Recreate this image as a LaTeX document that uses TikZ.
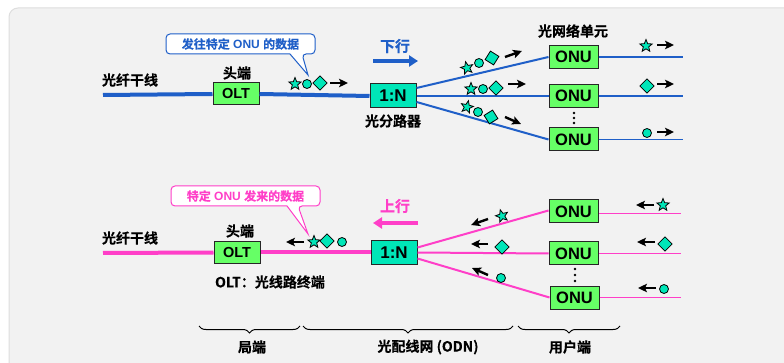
\documentclass[tikz,border=0pt]{standalone}
\usepackage{fontspec}
\setmainfont{Liberation Sans}
\newfontfamily\cjk{Noto Sans CJK SC}[BoldFont={Noto Sans CJK SC Bold}, BoldFeatures={FakeBold=0.4}]
\usetikzlibrary{shapes.geometric,arrows.meta,decorations.pathreplacing,calc}
\definecolor{panel}{HTML}{F2F2F2}
\definecolor{panelrim}{HTML}{DEDEDE}
\definecolor{pblue}{HTML}{1F5FC8}
\definecolor{pmag}{HTML}{FF3FC8}
\definecolor{boxg}{HTML}{66FF66}
\definecolor{tealx}{HTML}{00E6B8}
\begin{document}
\begin{tikzpicture}[x=1pt,y=-1pt,
  cjkt/.style={font=\cjk\bfseries\fontsize{14}{16}\selectfont, inner sep=0},
  onubox/.style={draw=black!85, line width=1pt, fill=boxg, minimum width=49pt, minimum height=23pt, inner sep=0, font=\bfseries\fontsize{16.5}{18}\selectfont},
  oltbox/.style={draw=black!85, line width=1pt, fill=boxg, minimum width=46pt, minimum height=22pt, inner sep=0, font=\bfseries\fontsize{14.5}{16}\selectfont},
  splitbox/.style={draw=black!85, line width=1pt, fill=tealx, minimum width=46pt, minimum height=24pt, inner sep=0, font=\bfseries\fontsize{17}{18}\selectfont},
  starsym/.style={shape=star, star points=5, star point ratio=2.3, minimum size=13pt, inner sep=0, draw=black, fill=tealx, line width=0.8pt},
  circsym/.style={circle, minimum size=9pt, inner sep=0, draw=black, fill=tealx, line width=0.8pt},
  diasym/.style={diamond, minimum size=14.5pt, inner sep=0, draw=black, fill=tealx, line width=0.8pt},
  darrow/.style={line width=2.4pt, -{Stealth[length=9pt,width=8.5pt,inset=2pt]}},
  trunk/.style={line width=4pt},
  branch/.style={line width=2pt},
  leaf/.style={line width=1.6pt},
  callout/.style={font=\bfseries\fontsize{12}{13}\selectfont, inner sep=0},
  bracex/.style={decorate, decoration={brace, amplitude=7pt, mirror}, line width=1pt}
]
\useasboundingbox (0,0) rectangle (784,363);
\begin{scope}
  \clip (0,0) rectangle (784,363);
  \fill[white] (0,0) rectangle (784,363);
  \draw[panelrim, fill=panel, line width=1pt, rounded corners=9pt] (9,8) rectangle (800,380);
\end{scope}

% ================= downstream =================
\node[cjkt] (t1) at (130,80) {光纤干线};
\node[cjkt] (h1) at (237,73) {头端};
\node[oltbox] (olt1) at (236,94) {OLT};
\node[splitbox] (sp1) at (393,96) {1:N};
\node[cjkt] (sl1) at (393,121) {光分路器};
\node[cjkt] (ou) at (573,31) {光网络单元};
\node[onubox] (da) at (573.5,57) {ONU};
\node[onubox] (db) at (573.5,96) {ONU};
\node[onubox] (dc) at (573.5,139.5) {ONU};
\coordinate (ts1) at (103,95);
\coordinate (de) at (683,0);

\draw[pblue, trunk] (ts1) -- (olt1.west);
\draw[pblue, trunk] (olt1.east) -- (sp1.west);
\draw[pblue, branch] ($(sp1.east)+(0,-8)$) -- (da.west);
\draw[pblue, branch] (sp1.east) -- (db.west);
\draw[pblue, branch] ($(sp1.east)+(0,6)$) -- (dc.west);
\draw[pblue, leaf] (da.east) -- (da.east -| de);
\draw[pblue, leaf] (db.east) -- (db.east -| de);
\draw[pblue, leaf] (dc.east) -- (dc.east -| de);
\foreach \yy in {113,118,123} \fill (574,\yy) circle (1.3pt);

% callout downstream
\draw[pblue, line width=1pt, fill=white, rounded corners=4pt]
  (166,34) -- (315,34) -- (315,54) -- (302,54) [sharp corners] -- (308,75) -- (290,54) [rounded corners=4pt] -- (166,54) -- cycle;
\node[callout, text=pblue] (c1) at (240.5,44) {{\cjk 发往特定} ONU {\cjk 的数据}};

% 下行 arrow
\node[cjkt, text=pblue, font=\cjk\bfseries\fontsize{15}{16}\selectfont] (dl) at (395,46) {下行};
\coordinate (dla) at (373,61);
\coordinate (dlb) at (418,61);
\draw[pblue, line width=3.5pt, -{Triangle[length=9pt,width=11pt]}] (dla) -- (dlb);

% symbols on trunk
\node[starsym] (s1) at (295,84) {};
\node[circsym] (s2) at (307,84) {};
\node[diasym] (s3) at (320,83) {};
\coordinate (a1) at (330,83); \coordinate (a2) at (348,83);
\draw[darrow] (a1) -- (a2);

% symbols on branches
\node[starsym, rotate=13] (u1) at (467,68) {};
\node[circsym] (u2) at (479,63) {};
\node[diasym, rotate=13] (u3) at (492,58) {};
\coordinate (ua) at (505,57); \coordinate (ub) at (522,51);
\draw[darrow] (ua) -- (ub);
\node[starsym] (m1) at (471,89) {};
\node[circsym] (m2) at (483,89) {};
\node[diasym] (m3) at (496,88) {};
\coordinate (ma) at (508,84); \coordinate (mb) at (526,84);
\draw[darrow] (ma) -- (mb);
\node[starsym, rotate=-13] (l1) at (467,107) {};
\node[circsym] (l2) at (478,112) {};
\node[diasym, rotate=-13] (l3) at (491,117) {};
\coordinate (la) at (505,117); \coordinate (lb) at (521,124);
\draw[darrow] (la) -- (lb);

% symbols after ONU
\node[starsym] (r1) at (646,46) {};
\coordinate (r1a) at (657,45); \coordinate (r1b) at (674,45);
\draw[darrow] (r1a) -- (r1b);
\node[diasym] (r2) at (647,86) {};
\coordinate (r2a) at (657,84); \coordinate (r2b) at (674,84);
\draw[darrow] (r2a) -- (r2b);
\node[circsym] (r3) at (647,133) {};
\coordinate (r3a) at (657,132); \coordinate (r3b) at (674,132);
\draw[darrow] (r3a) -- (r3b);

% ================= upstream =================
\node[cjkt] (t2) at (130,238) {光纤干线};
\node[cjkt] (h2) at (240,231) {头端};
\node[oltbox] (olt2) at (237,252.5) {OLT};
\node[cjkt] (oltdef) at (270,282) {OLT{\cjk ：光线路终端}};
\node[splitbox] (sp2) at (394,252.5) {1:N};
\node[onubox] (ua1) at (573.5,211.5) {ONU};
\node[onubox] (ub1) at (573.5,253.5) {ONU};
\node[onubox] (uc1) at (574.5,297.5) {ONU};
\coordinate (ts2) at (103,253);
\coordinate (ue) at (681,0);

\draw[pmag, trunk] (ts2) -- (olt2.west);
\draw[pmag, trunk] (olt2.east) -- (sp2.west);
\draw[pmag, branch] ($(sp2.east)+(0,-5)$) -- ($(ua1.west)+(0,-1)$);
\draw[pmag, branch] (sp2.east) -- (ub1.west);
\draw[pmag, branch] ($(sp2.east)+(0,6)$) -- (uc1.west);
\draw[pmag, leaf] ($(ua1.east)+(0,2)$) -- ($(ua1.east -| ue)+(0,2)$);
\draw[pmag, leaf] (ub1.east) -- (ub1.east -| ue);
\draw[pmag, leaf] (uc1.east) -- (uc1.east -| ue);
\foreach \yy in {269,275,281} \fill (575,\yy) circle (1.3pt);

% callout upstream
\draw[pmag, line width=1pt, fill=white, rounded corners=4pt]
  (171,186) -- (320,186) -- (320,206) -- (298,206) [sharp corners] -- (308,234) -- (287,206) [rounded corners=4pt] -- (171,206) -- cycle;
\node[callout, text=pmag] (c2) at (245.5,196) {{\cjk 特定} ONU {\cjk 发来的数据}};

% 上行 arrow
\node[cjkt, text=pmag, font=\cjk\bfseries\fontsize{15}{16}\selectfont] (ul) at (395,206) {上行};
\coordinate (ula) at (418,223);
\coordinate (ulb) at (373,223);
\draw[pmag, line width=3.5pt, -{Triangle[length=9pt,width=11pt]}] (ula) -- (ulb);

% symbols on trunk
\coordinate (b1) at (304,242); \coordinate (b2) at (286,242);
\draw[darrow] (b1) -- (b2);
\node[starsym] (q1) at (314,242) {};
\node[diasym] (q2) at (327,241) {};
\node[circsym] (q3) at (342,242) {};

% symbols on branches
\coordinate (p1a) at (488,219); \coordinate (p1b) at (471,225);
\draw[darrow] (p1a) -- (p1b);
\node[starsym, rotate=16] (p1) at (502,216) {};
\coordinate (p2a) at (488,244); \coordinate (p2b) at (471,244);
\draw[darrow] (p2a) -- (p2b);
\node[diasym] (p2) at (502,247) {};
\coordinate (p3a) at (488,275); \coordinate (p3b) at (472,268);
\draw[darrow] (p3a) -- (p3b);
\node[circsym] (p3) at (501,278) {};

% symbols after ONU
\coordinate (w1a) at (654,205); \coordinate (w1b) at (636,205);
\draw[darrow] (w1a) -- (w1b);
\node[starsym] (w1) at (663,205) {};
\coordinate (w2a) at (655,242); \coordinate (w2b) at (637,242);
\draw[darrow] (w2a) -- (w2b);
\node[diasym] (w2) at (665,244) {};
\coordinate (w3a) at (656,288); \coordinate (w3b) at (638,288);
\draw[darrow] (w3a) -- (w3b);
\node[circsym] (w3) at (664,289) {};

% ================= braces =================
\coordinate (k1) at (199,326); \coordinate (k2) at (300,326);
\coordinate (k3) at (303,326); \coordinate (k4) at (513,326);
\coordinate (k5) at (518,326); \coordinate (k6) at (620,326);
\draw[bracex] (k1) -- (k2);
\draw[bracex] (k3) -- (k4);
\draw[bracex] (k5) -- (k6);
\node[cjkt] (g1) at (252,347) {局端};
\node[cjkt] (g2) at (428,347) {光配线网 (ODN)};
\node[cjkt] (g3) at (570,347) {用户端};
\end{tikzpicture}
\end{document}
